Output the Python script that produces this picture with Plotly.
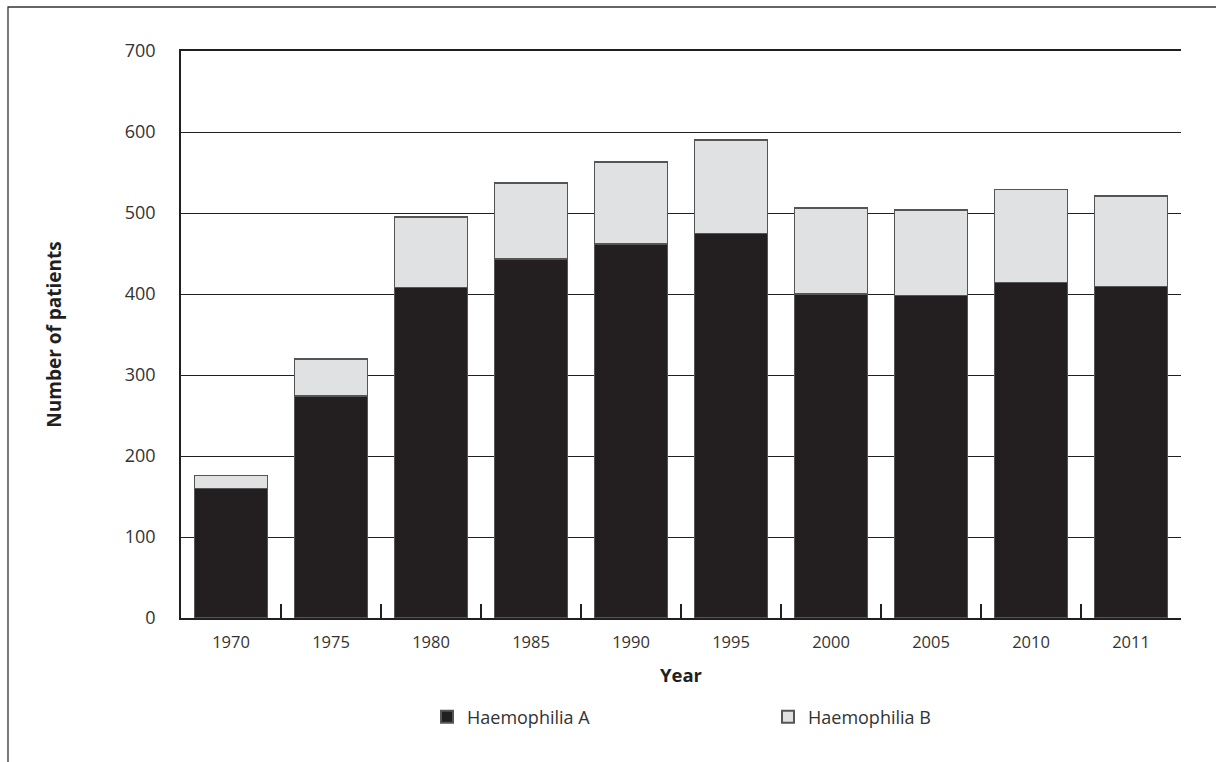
import plotly.graph_objects as go

years = ["1970", "1975", "1980", "1985", "1990", "1995", "2000", "2005", "2010", "2011"]
haemophilia_a = [160, 274, 408, 443, 462, 475, 400, 398, 414, 409]
haemophilia_b = [16, 46, 87, 94, 101, 115, 106, 106, 115, 112]
y_ticks = [0, 100, 200, 300, 400, 500, 600, 700]

FONT = "Open Sans, Noto Sans, DejaVu Sans, sans-serif"
DARK = "#231f20"

fig = go.Figure()
fig.add_bar(x=years, y=haemophilia_a, name="Haemophilia A",
            marker=dict(color=DARK, line=dict(color="#555555", width=1.5)),
            width=0.73)
fig.add_bar(x=years, y=haemophilia_b, name="Haemophilia B",
            marker=dict(color="#e0e1e3", line=dict(color="#555555", width=1.5)),
            width=0.73)

W, H = 1216, 762
L, R, T, B = 181, 35, 51, 144
pw, ph = W - L - R, H - T - B

# outer frame (top and left edges)
x_left = (8 - L) / pw
y_top = 1 + (T - 7) / ph
y_bot = -(B + 5) / ph
x_right = 1 + (R + 5) / pw
fig.add_shape(type="path", xref="paper", yref="paper",
              path=f"M {x_left},{y_bot} L {x_left},{y_top} L {x_right},{y_top}",
              line=dict(color="#333333", width=1.3))

fig.update_layout(
    width=W, height=H,
    barmode="stack",
    bargap=0.27,
    plot_bgcolor="white", paper_bgcolor="white",
    margin=dict(l=L, r=R, t=T, b=B, autoexpand=False),
    font=dict(family=FONT, color="#333333"),
    showlegend=True,
    legend=dict(orientation="h", x=0.246, xanchor="left", y=-0.142, yanchor="top",
                font=dict(size=18, family=FONT, color="#333333"),
                entrywidth=296, entrywidthmode="pixels",
                traceorder="normal", itemsizing="constant"),
    xaxis=dict(
        type="category",
        showline=True, linecolor=DARK, linewidth=1.5,
        mirror=True,
        ticks="inside", tickson="boundaries", ticklen=14, tickwidth=1.5, tickcolor=DARK,
        ticklabelstandoff=8,
        tickfont=dict(size=16.5, family=FONT, color="#333333"),
        showgrid=False,
        title=dict(text="<b>Year</b>", font=dict(size=18.5, family=FONT, color="#231f20"), standoff=18),
    ),
    yaxis=dict(
        range=[0, 700],
        tickvals=y_ticks,
        showline=True, linecolor=DARK, linewidth=1.5,
        showgrid=True, gridcolor=DARK, gridwidth=1.2,
        ticks="", ticklabelstandoff=20,
        tickfont=dict(size=18, family=FONT, color="#333333"),
        zeroline=False,
        title=dict(text="<b>Number of patients</b>", font=dict(size=19, family=FONT, color="#231f20"), standoff=58),
    ),
)

fig.write_html("out.html", config={"displayModeBar": False},
               post_script="document.body.style.margin='0';document.body.style.padding='0';")
